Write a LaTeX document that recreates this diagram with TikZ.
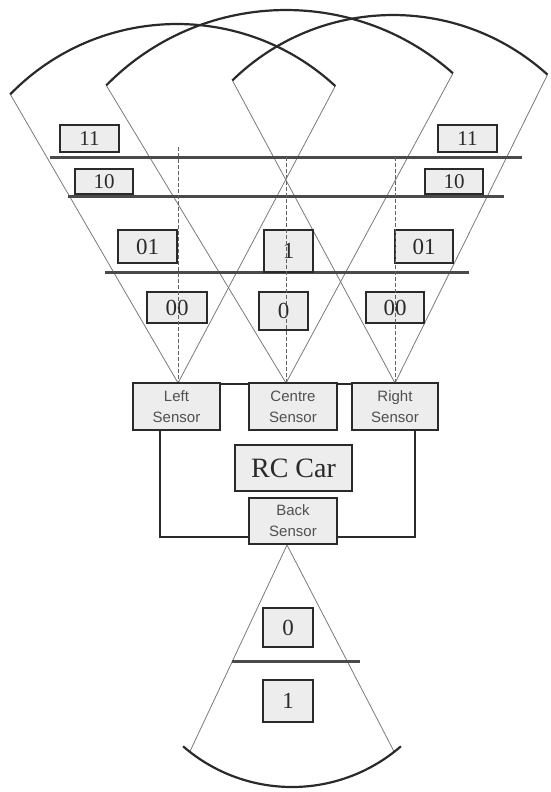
\documentclass[tikz,border=0pt]{standalone}
\usepackage{fontspec}
\setmainfont{Liberation Serif}
\newfontfamily\sensfont{Liberation Sans}
\usetikzlibrary{calc}
\definecolor{boxfill}{HTML}{EDEDED}
\definecolor{ink}{HTML}{2A2A2A}
\definecolor{fanline}{HTML}{7A7A7A}
\definecolor{senstext}{HTML}{505050}
\begin{document}
\begin{tikzpicture}[x=1pt,y=1pt,
  valbox/.style={draw=ink,line width=1.8pt,fill=boxfill,inner sep=0pt,text=ink,
    font=\fontsize{23}{23}\selectfont},
  smallval/.style={valbox,font=\fontsize{21}{21}\selectfont},
  sensbox/.style={draw=ink,line width=1.9pt,fill=boxfill,inner sep=0pt,align=center,
    text=senstext,font=\sensfont\fontsize{15}{21}\selectfont,minimum height=47pt},
  carbox/.style={draw=ink,line width=1.9pt,fill=boxfill,inner sep=0pt,text=ink,
    font=\fontsize{28}{28}\selectfont},
  fanedge/.style={draw=fanline,line width=0.8pt},
  fanarc/.style={draw=ink,line width=2.2pt},
  hline/.style={draw=ink!85,line width=3pt},
  wire/.style={draw=ink,line width=2.3pt},
  dashline/.style={draw=fanline!80!black,line width=0.8pt,dash pattern=on 4pt off 2pt}]
\useasboundingbox (0,0) rectangle (550,-792);

% ---- fan geometry ----
\coordinate (LS) at (178,-383);
\coordinate (LC) at (177,-257);
\coordinate (LA) at ($(LC)+(135.7:233pt)$);
\coordinate (LB) at ($(LC)+(47.2:233pt)$);
\coordinate (CS) at (286,-383);
\coordinate (CC) at (286,-262);
\coordinate (CA) at ($(CC)+(135.5:252pt)$);
\coordinate (CB) at ($(CC)+(48.5:252pt)$);
\coordinate (RS) at (395,-383);
\coordinate (RCC) at (393,-245);
\coordinate (RA) at ($(RCC)+(134.3:230pt)$);
\coordinate (RB) at ($(RCC)+(47.8:230pt)$);
\coordinate (BS) at (287,-545);
\coordinate (BC) at (292,-621);
\coordinate (BA) at ($(BC)+(232:166pt)$);
\coordinate (BB) at ($(BC)+(308:166pt)$);

\draw[fanedge] (LA) -- (LS) -- (LB);
\draw[fanedge] (CA) -- (CS) -- (CB);
\draw[fanedge] (RA) -- (RS) -- (RB);
\draw[fanedge] (BA) -- (BS) -- (BB);

\draw[fanarc] (LA) arc[start angle=135.7,end angle=47.2,radius=233pt];
\draw[fanarc] (CA) arc[start angle=135.5,end angle=48.5,radius=252pt];
\draw[fanarc] (RA) arc[start angle=134.3,end angle=47.8,radius=230pt];
\draw[fanarc] ($(BC)+(229:166pt)$) arc[start angle=229,end angle=311,radius=166pt];

% ---- range lines ----
\draw[hline] (50,-157) -- (522,-157);
\draw[hline] (68,-196.5) -- (504,-196.5);
\draw[hline] (105,-272) -- (469,-272);
\draw[hline] (232,-661) -- (360,-661);

% ---- value boxes ----
\node[smallval,minimum width=59pt,minimum height=27pt] (v11l) at (89.5,-138.5) {11};
\node[smallval,minimum width=59pt,minimum height=27pt] (v11r) at (467.5,-138.5) {11};
\node[smallval,minimum width=58pt,minimum height=25pt] (v10l) at (104,-181.5) {10};
\node[smallval,minimum width=58pt,minimum height=25pt] (v10r) at (454,-181.5) {10};
\node[valbox,minimum width=59pt,minimum height=33pt] (v01l) at (147.5,-246.5) {01};
\node[valbox,minimum width=49pt,minimum height=42pt] (v1c) at (288.5,-251) {1};
\node[valbox,minimum width=58pt,minimum height=33pt] (v01r) at (424,-246.5) {01};
\node[valbox,minimum width=60pt,minimum height=31pt] (v00l) at (177,-307.5) {00};
\node[valbox,minimum width=49pt,minimum height=38pt] (v0c) at (283.5,-311) {0};
\node[valbox,minimum width=58pt,minimum height=31pt] (v00r) at (395,-307.5) {00};
\node[valbox,minimum width=50pt,minimum height=39pt] (b0) at (288,-627.5) {0};
\node[valbox,minimum width=50pt,minimum height=42pt] (b1) at (288,-701) {1};

% ---- sensor axes ----
\draw[dashline] (178,-147) -- (LS);
\draw[dashline] (286,-157) -- (CS);
\draw[dashline] (395,-157) -- (RS);

% ---- car and sensors ----
\node[sensbox,minimum width=87pt] (ls) at (176.5,-406.5) {Left\\Sensor};
\node[sensbox,minimum width=88pt] (cs) at (293,-406.5) {Centre\\Sensor};
\node[sensbox,minimum width=86pt] (rs) at (395,-406.5) {Right\\Sensor};
\node[carbox,minimum width=117pt,minimum height=46pt] (car) at (293.5,-468) {RC Car};
\node[sensbox,minimum width=88pt,minimum height=46pt] (bs) at (293,-521) {Back\\Sensor};

\draw[wire] ([yshift=-2pt]ls.north east) -- ([yshift=-2pt]cs.north west);
\draw[wire] ([yshift=-2pt]cs.north east) -- ([yshift=-2pt]rs.north west);
\draw[wire] ([xshift=28pt]ls.south west) |- (bs.west |- 0,-537);
\draw[wire] ([xshift=-24pt]rs.south east) |- (bs.east |- 0,-537);
\end{tikzpicture}
\end{document}
